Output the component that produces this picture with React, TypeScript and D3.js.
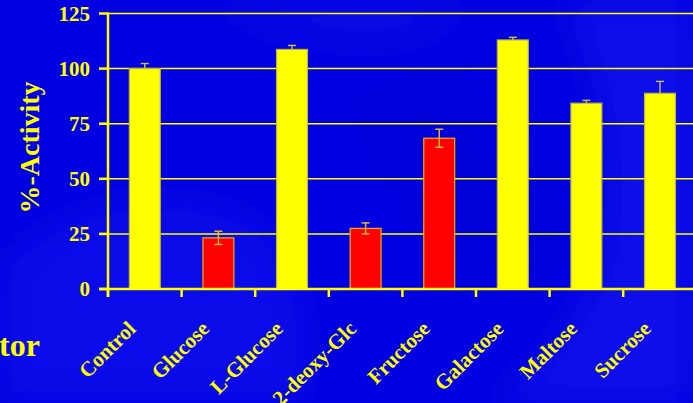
import React from "react";
import * as d3 from "d3";

const categories = ["Control", "Glucose", "L-Glucose", "2-deoxy-Glc", "Fructose", "Galactose", "Maltose", "Sucrose"];
const values = [100, 23.2, 108.7, 27.5, 68.4, 113, 84.3, 88.8];
const errors = [2.3, 3.0, 1.8, 2.5, 4.1, 1.2, 1.3, 5.4];
const inhibitor = [false, true, false, true, true, false, false, false];
const yTicks = [0, 25, 50, 75, 100, 125];

const W = 693;
const H = 403;
const left = 108;
const bandW = 73.6;
const y0 = 289;
const y125 = 13.5;

export default function App() {
  const x = d3
    .scaleBand<string>()
    .domain(categories)
    .range([left, left + bandW * categories.length])
    .paddingInner(0.58)
    .paddingOuter(0.29);
  const y = d3.scaleLinear().domain([0, 125]).range([y0, y125]);
  const yellow = "#ffff00";
  const font = "'Liberation Serif', 'Times New Roman', serif";
  const boundaries = d3.range(categories.length).map((i) => left + i * bandW);

  return (
    <svg
      width={W}
      height={H}
      style={{ position: "fixed", left: 0, top: 0, display: "block" }}
      fontFamily={font}
      fontWeight="bold"
    >
      <defs>
        <filter id="blur" x="-50%" y="-50%" width="200%" height="200%">
          <feGaussianBlur stdDeviation="18" />
        </filter>
      </defs>
      <rect x={0} y={0} width={W} height={H} fill="#0000e0" />
      <g filter="url(#blur)" opacity={0.5}>
        <path d="M0,260 Q120,160 260,220 Q330,300 300,403 L0,403 Z" fill="#1818f2" />
        <path d="M560,0 Q620,120 600,260 Q560,360 480,403 L693,403 L693,0 Z" fill="#1a1af4" />
        <path d="M200,0 Q300,60 420,40 Q470,10 480,0 Z" fill="#1212ee" />
        <path d="M380,120 Q440,180 470,260 L560,260 Q520,160 430,90 Z" fill="#0000d0" />
      </g>

      {/* gridlines */}
      {yTicks.slice(1).map((t) => (
        <line key={"g" + t} x1={left} x2={W} y1={y(t)} y2={y(t)} stroke={yellow} strokeWidth={1.5} />
      ))}

      {/* bars */}
      {categories.map((c, i) => {
        const bx = x(c)!;
        const bw = x.bandwidth();
        const top = y(values[i]);
        return (
          <rect
            key={"b" + c}
            x={bx}
            y={top}
            width={bw}
            height={y0 - top}
            fill={inhibitor[i] ? "#ff0000" : yellow}
            stroke={inhibitor[i] ? "#e6b400" : "#b8b840"}
            strokeWidth={1.2}
          />
        );
      })}

      {/* error bars */}
      {categories.map((c, i) => {
        const cx = x(c)! + x.bandwidth() / 2;
        const hi = y(values[i] + errors[i]);
        const lo = y(values[i] - errors[i]);
        const col = inhibitor[i] ? "#f0c020" : "#c8c050";
        return (
          <g key={"e" + c} stroke={col} strokeWidth={1.4}>
            <line x1={cx} x2={cx} y1={hi} y2={inhibitor[i] ? lo : y(values[i])} />
            <line x1={cx - 4} x2={cx + 4} y1={hi} y2={hi} />
            {inhibitor[i] && <line x1={cx - 4} x2={cx + 4} y1={lo} y2={lo} />}
          </g>
        );
      })}

      {/* axes */}
      <line x1={left} x2={left} y1={y125 - 1} y2={y0 + 8} stroke={yellow} strokeWidth={2.5} />
      <line x1={left - 9} x2={W} y1={y0} y2={y0} stroke={yellow} strokeWidth={2.5} />
      {yTicks.map((t) => (
        <g key={"t" + t}>
          <line x1={left - 9} x2={left} y1={y(t)} y2={y(t)} stroke={yellow} strokeWidth={2.5} />
          <text x={90} y={y(t)} dy="0.35em" textAnchor="end" fill={yellow} fontSize={21}>
            {t}
          </text>
        </g>
      ))}
      {boundaries.map((b, i) => (
        <line key={"xt" + i} x1={b} x2={b} y1={y0} y2={y0 + 8} stroke={yellow} strokeWidth={2.5} />
      ))}

      {/* x labels */}
      {categories.map((c) => {
        const cx = x(c)! + x.bandwidth() / 2 - 8;
        const cy = 330;
        return (
          <text
            key={"l" + c}
            x={cx}
            y={cy}
            transform={`rotate(-45 ${cx} ${cy})`}
            textAnchor="end"
            fill={yellow}
            fontSize={21}
          >
            {c}
          </text>
        );
      })}

      {/* y label */}
      <text
        x={39}
        y={147.5}
        transform="rotate(-90 39 147.5)"
        textAnchor="middle"
        fill={yellow}
        fontSize={28}
      >
        %-Activity
      </text>

      <text x={-1} y={356} fill={yellow} fontSize={32}>
        tor
      </text>
    </svg>
  );
}
